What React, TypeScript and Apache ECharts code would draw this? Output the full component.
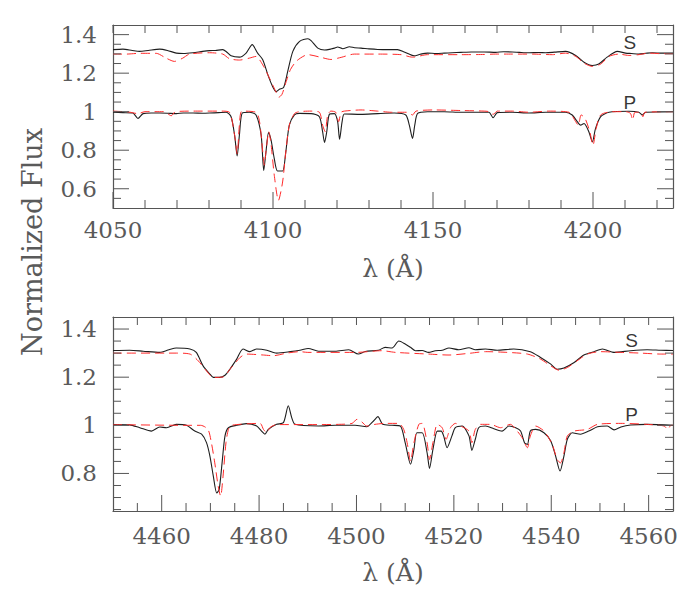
import React, { useEffect, useRef } from "react";
import * as echarts from "echarts";

// ---- Top panel (4050-4225 Å) ----
const topSObs: [number, number][] = [[4050,1.322],[4053.1,1.325],[4056,1.318],[4058.3,1.313],[4061,1.318],[4064.6,1.325],[4067,1.318],[4069.8,1.304],[4072,1.302],[4075,1.306],[4078,1.313],[4080.2,1.317],[4082,1.318],[4084.3,1.322],[4085.5,1.31],[4086.9,1.29],[4089.5,1.283],[4091.6,1.304],[4093.5,1.348],[4095.2,1.304],[4096.8,1.27],[4098.4,1.191],[4099.9,1.13],[4101,1.104],[4102,1.116],[4103.3,1.125],[4104.6,1.209],[4106.2,1.313],[4108.3,1.365],[4110.9,1.379],[4111.9,1.369],[4114,1.33],[4116.1,1.32],[4118.1,1.325],[4119.2,1.33],[4120.2,1.336],[4121.8,1.327],[4123.9,1.337],[4125.5,1.332],[4127.5,1.33],[4130,1.326],[4132.7,1.323],[4136,1.322],[4138.9,1.322],[4141,1.31],[4144.1,1.29],[4146,1.298],[4148.3,1.304],[4151,1.302],[4153.5,1.304],[4156,1.306],[4158.7,1.308],[4162,1.31],[4166,1.31],[4169.6,1.308],[4172,1.311],[4174.8,1.31],[4177,1.308],[4180,1.306],[4183,1.307],[4185.2,1.306],[4188,1.309],[4191.4,1.313],[4194.6,1.292],[4197.2,1.257],[4199.8,1.24],[4201.8,1.247],[4204.4,1.283],[4207.6,1.313],[4210.2,1.304],[4212,1.302],[4214.3,1.299],[4216.5,1.303],[4218.5,1.306],[4221.6,1.304],[4225,1.304]];
const topSModel: [number, number][] = [[4050,1.299],[4054.2,1.299],[4058.3,1.303],[4063.5,1.303],[4066.6,1.278],[4069.2,1.261],[4071.8,1.278],[4073.9,1.299],[4080.2,1.306],[4084.3,1.299],[4086.4,1.275],[4089.5,1.268],[4092.6,1.278],[4094.7,1.287],[4096.8,1.243],[4098.9,1.174],[4101,1.1],[4101.8,1.075],[4102.8,1.09],[4104,1.15],[4105.5,1.22],[4107.5,1.265],[4110.9,1.296],[4115,1.282],[4118.1,1.271],[4121.3,1.282],[4125.4,1.299],[4132.7,1.299],[4140,1.296],[4143.6,1.283],[4148.3,1.296],[4158.7,1.296],[4166,1.297],[4169.6,1.299],[4174.8,1.299],[4181,1.299],[4187.3,1.296],[4191.4,1.304],[4194.6,1.287],[4197.2,1.252],[4199.8,1.235],[4202.4,1.247],[4205,1.287],[4208.1,1.299],[4211.2,1.292],[4214.3,1.296],[4217.4,1.304],[4221.6,1.301],[4225,1.301]];
const topPObs: [number, number][] = [[4050,0.997],[4053.1,0.995],[4056.2,0.993],[4057.8,0.965],[4059.4,0.99],[4062,0.993],[4064.6,0.993],[4067,0.992],[4069.8,0.99],[4072,0.993],[4075,0.993],[4078,0.992],[4080.2,0.993],[4083,0.995],[4085.4,0.997],[4086.9,0.974],[4088,0.878],[4088.8,0.77],[4089.5,0.878],[4090.4,0.993],[4092.6,0.997],[4094.7,0.983],[4096.3,0.878],[4097.1,0.694],[4097.8,0.791],[4098.6,0.892],[4099.4,0.852],[4100.4,0.756],[4101.4,0.692],[4103,0.692],[4104,0.791],[4105.1,0.93],[4106.7,0.983],[4108.2,0.991],[4111.9,0.99],[4114.5,0.974],[4115.5,0.896],[4116.1,0.84],[4116.8,0.896],[4117.6,0.986],[4119.2,0.99],[4120.2,0.948],[4120.8,0.857],[4121.6,0.948],[4122.3,0.988],[4127.5,0.986],[4132.7,0.99],[4137.9,0.993],[4141.5,0.983],[4142.6,0.93],[4143.6,0.861],[4144.3,0.93],[4145.2,0.991],[4148.3,1.0],[4153.5,1.0],[4158.7,0.997],[4166,0.997],[4167.5,0.997],[4168.8,0.969],[4170.1,0.995],[4174.8,0.997],[4180,0.993],[4185.2,0.997],[4191.4,0.997],[4193.5,0.983],[4195.1,0.948],[4196.1,0.93],[4197.2,0.939],[4198.7,0.896],[4199.8,0.843],[4200.8,0.913],[4202.4,0.974],[4205,0.997],[4211.2,1.002],[4214.3,0.997],[4215.4,0.983],[4216.5,0.997],[4225,1.0]];
const topPModel: [number, number][] = [[4050,1.003],[4055,0.998],[4057.8,0.99],[4060,1.0],[4066,1.0],[4068.2,0.979],[4069.5,1.0],[4075,1.003],[4084,1.003],[4086.4,0.997],[4088,0.878],[4088.8,0.781],[4089.5,0.93],[4090.3,1.003],[4094.7,0.997],[4095.8,0.948],[4096.8,0.791],[4097.3,0.722],[4097.8,0.791],[4098.7,0.896],[4099.4,0.83],[4100.4,0.67],[4101.7,0.539],[4103,0.635],[4104,0.791],[4105.1,0.93],[4106.7,0.99],[4108.2,1.0],[4111.9,1.003],[4114.5,0.997],[4115.5,0.93],[4116.3,0.896],[4117.1,0.983],[4118.1,1.003],[4119.6,0.997],[4120.5,0.948],[4121.3,0.997],[4122.3,1.003],[4127.5,1.009],[4132.7,1.003],[4137,0.997],[4142,0.997],[4143.6,0.983],[4144.7,1.003],[4150.4,1.009],[4158.7,1.006],[4166,1.003],[4167.5,1.0],[4168.8,0.986],[4170.1,1.003],[4174.8,1.003],[4180,0.997],[4186.2,1.003],[4192.5,0.997],[4194.6,0.948],[4195.4,0.93],[4196.3,0.983],[4197.5,0.966],[4199,0.896],[4200,0.826],[4201,0.913],[4202.4,0.983],[4206,1.0],[4210.2,1.0],[4211.7,0.991],[4212.4,0.957],[4213.1,0.997],[4214.8,0.997],[4215.6,0.974],[4216.2,0.997],[4225,1.0]];

// ---- Bottom panel (4450-4565 Å) ----
const botSObs: [number, number][] = [[4450,1.311],[4453.4,1.312],[4456.2,1.308],[4459.6,1.303],[4461.5,1.314],[4463,1.321],[4465.8,1.317],[4467.1,1.303],[4468.5,1.247],[4469.9,1.213],[4470.6,1.199],[4471.9,1.199],[4473,1.208],[4474,1.233],[4475.4,1.275],[4476.7,1.317],[4478.1,1.306],[4479.5,1.317],[4481.6,1.312],[4483.6,1.3],[4486.4,1.306],[4488.4,1.312],[4490.1,1.319],[4492.2,1.308],[4495.6,1.308],[4498.4,1.314],[4500.4,1.296],[4501.8,1.307],[4504.5,1.312],[4505.9,1.324],[4507.3,1.321],[4508.7,1.35],[4510,1.338],[4511.1,1.324],[4512.1,1.31],[4513.5,1.311],[4514.8,1.303],[4516.2,1.31],[4517.6,1.312],[4519,1.321],[4521,1.314],[4523.1,1.322],[4524.4,1.314],[4526.5,1.317],[4528.9,1.312],[4532.3,1.317],[4535.7,1.306],[4537.8,1.282],[4539.9,1.254],[4541.2,1.233],[4542.6,1.238],[4544.7,1.261],[4546.7,1.292],[4548.8,1.306],[4550.5,1.317],[4552.9,1.303],[4556.3,1.31],[4559.7,1.314],[4562.5,1.312],[4565,1.311]];
const botSModel: [number, number][] = [[4450,1.3],[4463,1.3],[4465.8,1.296],[4467.5,1.268],[4469.2,1.226],[4470.6,1.199],[4472.6,1.201],[4474.3,1.24],[4476.1,1.282],[4477.4,1.296],[4480.9,1.292],[4482.9,1.289],[4485.7,1.3],[4488.4,1.306],[4490,1.303],[4500,1.303],[4505.2,1.31],[4508,1.303],[4514.8,1.296],[4519,1.292],[4523.1,1.299],[4526.5,1.306],[4530.9,1.303],[4535.1,1.296],[4537.8,1.275],[4539.9,1.247],[4541.6,1.229],[4543.3,1.24],[4545.3,1.268],[4547.4,1.296],[4550.1,1.306],[4554.3,1.303],[4558.4,1.3],[4562.5,1.296],[4565,1.296]];
const botPObs: [number, number][] = [[4450,1.003],[4453.4,1.002],[4455.5,0.99],[4457.9,0.976],[4459.6,0.993],[4461,0.99],[4463,1.004],[4465.1,1.0],[4466.8,0.976],[4468.2,0.963],[4469.2,0.928],[4469.9,0.872],[4470.6,0.789],[4471.3,0.719],[4471.8,0.733],[4472.4,0.844],[4473,0.956],[4473.7,0.99],[4475.4,1.0],[4477.4,1.007],[4479.5,0.997],[4480.5,0.976],[4481.2,0.963],[4481.9,0.983],[4483.6,1.004],[4485,1.011],[4486,1.081],[4486.7,1.032],[4487.4,1.004],[4492.2,0.997],[4495.6,1.0],[4499.7,1.0],[4502.1,0.994],[4503.5,1.018],[4504.4,1.036],[4505.4,1.004],[4507.3,1.0],[4509,0.997],[4510,0.928],[4511.1,0.838],[4511.8,0.9],[4512.4,0.969],[4513.5,0.969],[4514.5,0.886],[4515,0.821],[4515.7,0.9],[4516.6,0.976],[4517.4,0.976],[4517.9,0.956],[4518.6,0.907],[4519.6,0.956],[4520.3,0.99],[4521.7,0.997],[4523.1,0.956],[4523.7,0.896],[4524.4,0.942],[4525.1,0.99],[4526.5,0.997],[4528.2,0.986],[4529.9,0.976],[4531.3,0.997],[4532.7,0.99],[4533.7,0.976],[4534.5,0.928],[4535.1,0.921],[4535.7,0.976],[4536.8,0.983],[4538.5,0.969],[4539.9,0.935],[4540.9,0.872],[4541.8,0.81],[4542.6,0.872],[4543.3,0.942],[4544.3,0.969],[4546,0.963],[4547.7,0.976],[4549.5,0.994],[4551.5,0.997],[4552.9,0.981],[4554.3,0.993],[4556.3,1.001],[4559.7,1.004],[4565,1.0]];
const botPModel: [number, number][] = [[4450,1.003],[4465,1.0],[4468,1.0],[4469.5,0.983],[4470.2,0.928],[4470.9,0.844],[4471.6,0.747],[4472.1,0.706],[4472.6,0.789],[4473.2,0.928],[4473.7,0.983],[4474.3,1.0],[4480.2,1.008],[4480.9,0.983],[4481.6,0.969],[4482.2,0.99],[4483.6,1.003],[4492,1.003],[4496.3,1.004],[4499.1,1.008],[4500.1,1.025],[4501.1,1.014],[4502.1,0.997],[4503.8,1.004],[4505.9,1.008],[4508.7,1.008],[4509.7,0.983],[4510.4,0.928],[4511.1,0.851],[4511.8,0.928],[4512.8,1.004],[4513.5,1.008],[4514.5,0.928],[4515,0.858],[4515.7,0.928],[4516.6,1.004],[4517.6,0.99],[4518.4,0.942],[4519.3,0.99],[4520.3,1.008],[4521.7,0.994],[4523.1,0.976],[4523.7,0.928],[4524.4,0.983],[4525.5,1.004],[4527.5,1.004],[4529.6,0.99],[4531.6,1.004],[4533,0.976],[4534,0.949],[4535.1,0.907],[4535.7,0.956],[4536.8,0.997],[4538.5,0.976],[4540.2,0.921],[4541.2,0.858],[4541.9,0.844],[4542.6,0.886],[4543.3,0.956],[4544.7,0.976],[4547.4,0.983],[4549.5,1.004],[4554.3,1.008],[4559.7,1.004],[4563.2,0.997],[4563.9,0.983],[4564.6,1.0],[4565,1.0]];

// ---- Axis ranges and tick values ----
const topXRange: [number, number] = [4050, 4225];
const topYRange: [number, number] = [0.5, 1.45];
const botXRange: [number, number] = [4450, 4565];
const botYRange: [number, number] = [0.644, 1.45];
const topXMajor = [4050, 4100, 4150, 4200];
const topXMinor = [4060, 4070, 4080, 4090, 4110, 4120, 4130, 4140, 4160, 4170, 4180, 4190, 4210, 4220];
const topYMajor = [0.6, 0.8, 1.0, 1.2, 1.4];
const topYMinor = [0.55, 0.65, 0.7, 0.75, 0.85, 0.9, 0.95, 1.05, 1.1, 1.15, 1.25, 1.3, 1.35];
const botXMajor = [4460, 4480, 4500, 4520, 4540, 4560];
const botXMinor = [4455, 4465, 4470, 4475, 4485, 4490, 4495, 4505, 4510, 4515, 4525, 4530, 4535, 4545, 4550, 4555];
const botYMajor = [0.8, 1.0, 1.2, 1.4];
const botYMinor = [0.65, 0.7, 0.75, 0.85, 0.9, 0.95, 1.05, 1.1, 1.15, 1.25, 1.3, 1.35];

// ---- Component labels ----
const topLabels: [number, number, string][] = [[4211.5, 1.358, "S"], [4211.5, 1.05, "P"]];
const botLabels: [number, number, string][] = [[4556.5, 1.351, "S"], [4556.5, 1.047, "P"]];

const AX = "#555";
const LBL = "#5a5a5a";
const SERIF = "DejaVu Serif";
const MAJ = 16;
const MIN = 8;

function axesFor(grid: number, xr: [number, number], yr: [number, number], xMaj: number[], yMaj: number[], xMargin: number) {
  const line = { show: true, lineStyle: { color: AX, width: 1.2 } };
  const base = { type: "value", gridIndex: grid, splitLine: { show: false }, axisTick: { show: false } };
  const xs = [
    { ...base, min: xr[0], max: xr[1], position: "bottom", axisLine: line,
      axisLabel: { show: true, customValues: xMaj, margin: xMargin, fontFamily: SERIF, fontSize: 23, color: LBL, formatter: (v: number) => String(v) } },
    { ...base, min: xr[0], max: xr[1], position: "top", axisLine: line, axisLabel: { show: false } },
  ];
  const ys = [
    { ...base, min: yr[0], max: yr[1], position: "left", axisLine: line,
      axisLabel: { show: true, customValues: yMaj, margin: 16, fontFamily: SERIF, fontSize: 23, color: LBL, formatter: (v: number) => String(Math.round(v * 10) / 10) } },
    { ...base, min: yr[0], max: yr[1], position: "right", axisLine: line, axisLabel: { show: false } },
  ];
  return { xs, ys };
}

// tick marks as [value-x, value-y, pixel dx, pixel dy]
function tickData(xr: [number, number], yr: [number, number], xMaj: number[], xMin: number[], yMaj: number[], yMin: number[]) {
  const out: number[][] = [];
  xMaj.forEach((x) => { out.push([x, yr[0], 0, -MAJ]); out.push([x, yr[1], 0, MIN]); });
  xMin.forEach((x) => { out.push([x, yr[0], 0, -MIN]); out.push([x, yr[1], 0, MIN]); });
  yMaj.forEach((y) => { out.push([xr[0], y, MAJ, 0]); out.push([xr[1], y, -MAJ, 0]); });
  yMin.forEach((y) => { out.push([xr[0], y, MIN, 0]); out.push([xr[1], y, -MIN, 0]); });
  return out;
}

export default function App() {
  const ref = useRef<HTMLDivElement>(null);
  useEffect(() => {
    if (!ref.current) return;
    const chart = echarts.init(ref.current, undefined, { renderer: "svg" });
    const top = axesFor(0, topXRange, topYRange, topXMajor, topYMajor, 10);
    const bot = axesFor(1, botXRange, botYRange, botXMajor, botYMajor, 13);
    const obs = (data: [number, number][], xi: number, yi: number) => ({
      type: "line", data, xAxisIndex: xi, yAxisIndex: yi, showSymbol: false, symbol: "none", clip: true,
      smooth: 0.25, lineStyle: { color: "#1e1e1e", width: 1.1 }, silent: true, z: 2,
    });
    const model = (data: [number, number][], xi: number, yi: number) => ({
      type: "line", data, xAxisIndex: xi, yAxisIndex: yi, showSymbol: false, symbol: "none", clip: true,
      smooth: 0.25, lineStyle: { color: "#ff2a2a", width: 1, type: [9, 5] }, silent: true, z: 3,
    });
    const labels = (items: [number, number, string][], xi: number, yi: number) => ({
      type: "scatter", xAxisIndex: xi, yAxisIndex: yi, symbolSize: 1, itemStyle: { color: "rgba(0,0,0,0)" }, silent: true,
      data: items.map((d) => ({ value: [d[0], d[1]], name: d[2] })),
      label: { show: true, position: "inside", formatter: "{b}", fontFamily: "Liberation Sans", fontSize: 19, color: "#000" },
    });
    const ticks = (data: number[][], xi: number, yi: number) => ({
      type: "custom", xAxisIndex: xi, yAxisIndex: yi, silent: true, clip: false, z: 5, data,
      renderItem: (_p: any, api: any) => {
        const pt = api.coord([api.value(0), api.value(1)]);
        return { type: "line", shape: { x1: pt[0], y1: pt[1], x2: pt[0] + api.value(2), y2: pt[1] + api.value(3) }, style: { stroke: AX, lineWidth: 1 } };
      },
    });
    chart.setOption({
      animation: false,
      backgroundColor: "#fff",
      grid: [
        { left: 113, top: 25, width: 560, height: 183, containLabel: false },
        { left: 113, top: 317, width: 560, height: 194, containLabel: false },
      ],
      xAxis: [...top.xs, ...bot.xs],
      yAxis: [...top.ys, ...bot.ys],
      series: [
        obs(topSObs, 0, 0), model(topSModel, 0, 0),
        obs(topPObs, 0, 0), model(topPModel, 0, 0),
        obs(botSObs, 2, 2), model(botSModel, 2, 2),
        obs(botPObs, 2, 2), model(botPModel, 2, 2),
        labels(topLabels, 0, 0), labels(botLabels, 2, 2),
        ticks(tickData(topXRange, topYRange, topXMajor, topXMinor, topYMajor, topYMinor), 0, 0),
        ticks(tickData(botXRange, botYRange, botXMajor, botXMinor, botYMajor, botYMinor), 2, 2),
      ],
      graphic: [
        { type: "text", x: 393, y: 268, style: { text: "λ (Å)", fontFamily: SERIF, fontSize: 25, fill: LBL, align: "center", verticalAlign: "middle" } },
        { type: "text", x: 393, y: 572, style: { text: "λ (Å)", fontFamily: SERIF, fontSize: 25, fill: LBL, align: "center", verticalAlign: "middle" } },
        { type: "text", x: 32, y: 242, rotation: Math.PI / 2, style: { text: "Normalized Flux", fontFamily: SERIF, fontSize: 27, fill: LBL, align: "center", verticalAlign: "middle" } },
      ],
    });
    return () => chart.dispose();
  }, []);
  return <div ref={ref} style={{ position: "fixed", left: 0, top: 0, width: 695, height: 604, background: "#fff" }} />;
}
